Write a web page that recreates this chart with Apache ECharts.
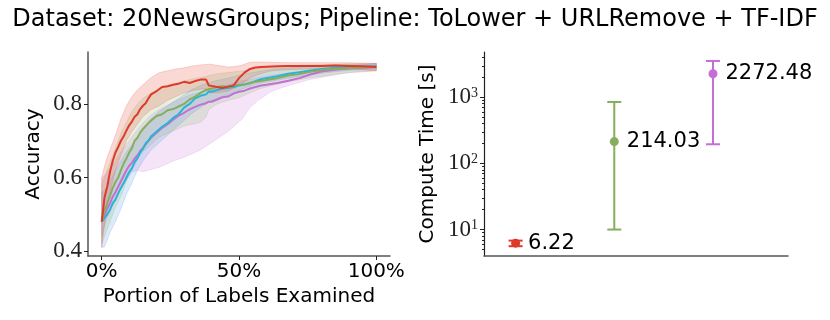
<!DOCTYPE html>
<html>
<head>
<meta charset="utf-8">
<script src="https://cdn.jsdelivr.net/npm/echarts@6/dist/echarts.min.js"></script>
<style>
  html, body { margin: 0; padding: 0; background: #fff; }
  #chart { width: 830px; height: 320px; }
</style>
</head>
<body>
<div id="chart"></div>
<script>
// portion of labels examined (%) for the mean curves
const portion = [0, 1, 2, 3, 4, 5, 6, 7, 8, 9, 10, 11, 12, 13, 14, 15, 16, 17, 18, 20, 22, 24, 26, 28, 30, 32, 34, 36, 38, 39, 40, 42, 44, 46, 48, 50, 52, 54, 56, 58, 60, 64, 68, 72, 76, 80, 85, 90, 95, 100];

const redMean    = [0.48, 0.545, 0.575, 0.615, 0.645, 0.668, 0.683, 0.70, 0.712, 0.728, 0.742, 0.752, 0.765, 0.772, 0.786, 0.795, 0.802, 0.815, 0.826, 0.835, 0.846, 0.848, 0.852, 0.855, 0.86, 0.857, 0.862, 0.866, 0.866, 0.85, 0.849, 0.846, 0.843, 0.847, 0.85, 0.87, 0.885, 0.895, 0.899, 0.90, 0.901, 0.902, 0.903, 0.903, 0.903, 0.903, 0.904, 0.903, 0.902, 0.900];
const greenMean  = [0.48, 0.51, 0.53, 0.55, 0.572, 0.588, 0.60, 0.62, 0.638, 0.652, 0.668, 0.68, 0.70, 0.708, 0.722, 0.732, 0.74, 0.748, 0.755, 0.767, 0.772, 0.783, 0.786, 0.793, 0.80, 0.812, 0.82, 0.83, 0.838, 0.84, 0.842, 0.846, 0.848, 0.846, 0.851, 0.852, 0.853, 0.857, 0.86, 0.862, 0.865, 0.87, 0.877, 0.881, 0.887, 0.892, 0.895, 0.897, 0.899, 0.90];
const cyanMean   = [0.48, 0.49, 0.50, 0.512, 0.53, 0.54, 0.557, 0.572, 0.585, 0.60, 0.615, 0.625, 0.642, 0.652, 0.668, 0.678, 0.693, 0.70, 0.712, 0.725, 0.738, 0.748, 0.762, 0.772, 0.79, 0.80, 0.815, 0.822, 0.826, 0.834, 0.833, 0.838, 0.842, 0.843, 0.846, 0.85, 0.853, 0.856, 0.862, 0.867, 0.87, 0.875, 0.882, 0.886, 0.891, 0.895, 0.898, 0.90, 0.901, 0.902];
const purpleMean = [0.48, 0.50, 0.515, 0.53, 0.548, 0.56, 0.575, 0.59, 0.605, 0.62, 0.632, 0.64, 0.652, 0.66, 0.672, 0.68, 0.69, 0.70, 0.708, 0.722, 0.735, 0.745, 0.757, 0.768, 0.776, 0.785, 0.792, 0.798, 0.802, 0.806, 0.806, 0.812, 0.818, 0.82, 0.828, 0.833, 0.836, 0.842, 0.846, 0.85, 0.852, 0.857, 0.863, 0.87, 0.88, 0.888, 0.893, 0.896, 0.898, 0.90];

// portion (%) for the shaded min/max bands
const bandPortion = [0, 1, 2, 3, 5, 7, 9, 11, 13, 15, 18, 21, 24, 27, 30, 33, 36, 38, 39, 42, 46, 49, 51, 54, 57, 62, 68, 75, 82, 90, 100];

const redUp    = [0.60, 0.63, 0.655, 0.675, 0.715, 0.76, 0.795, 0.82, 0.838, 0.852, 0.872, 0.885, 0.89, 0.895, 0.898, 0.903, 0.906, 0.907, 0.908, 0.905, 0.90, 0.902, 0.905, 0.913, 0.914, 0.913, 0.912, 0.912, 0.912, 0.912, 0.91];
const redLow   = [0.41, 0.47, 0.52, 0.56, 0.62, 0.66, 0.70, 0.725, 0.745, 0.765, 0.785, 0.795, 0.81, 0.82, 0.83, 0.836, 0.84, 0.842, 0.83, 0.83, 0.835, 0.845, 0.855, 0.87, 0.88, 0.89, 0.893, 0.895, 0.896, 0.895, 0.89];

const greenUp  = [0.58, 0.60, 0.62, 0.64, 0.68, 0.72, 0.75, 0.78, 0.80, 0.815, 0.83, 0.84, 0.85, 0.856, 0.862, 0.868, 0.872, 0.875, 0.877, 0.882, 0.885, 0.888, 0.889, 0.893, 0.896, 0.90, 0.903, 0.906, 0.907, 0.909, 0.91];
const greenLow = [0.42, 0.44, 0.46, 0.48, 0.52, 0.55, 0.59, 0.62, 0.65, 0.67, 0.69, 0.71, 0.72, 0.73, 0.74, 0.745, 0.75, 0.765, 0.785, 0.80, 0.81, 0.815, 0.82, 0.83, 0.84, 0.85, 0.86, 0.87, 0.877, 0.885, 0.89];

const cyanUp   = [0.56, 0.565, 0.575, 0.59, 0.62, 0.645, 0.67, 0.69, 0.71, 0.73, 0.76, 0.78, 0.795, 0.81, 0.825, 0.84, 0.85, 0.855, 0.858, 0.864, 0.87, 0.876, 0.879, 0.884, 0.888, 0.894, 0.898, 0.902, 0.905, 0.907, 0.91];
const cyanLow  = [0.41, 0.412, 0.43, 0.45, 0.48, 0.515, 0.555, 0.585, 0.62, 0.645, 0.675, 0.695, 0.715, 0.735, 0.755, 0.775, 0.79, 0.80, 0.805, 0.815, 0.825, 0.835, 0.84, 0.848, 0.855, 0.862, 0.87, 0.878, 0.885, 0.891, 0.895];

const purpleUp  = [0.60, 0.605, 0.615, 0.625, 0.645, 0.67, 0.69, 0.71, 0.73, 0.748, 0.77, 0.785, 0.797, 0.808, 0.818, 0.826, 0.832, 0.836, 0.838, 0.845, 0.852, 0.858, 0.862, 0.866, 0.872, 0.878, 0.884, 0.89, 0.896, 0.902, 0.91];
const purpleLow = [0.44, 0.47, 0.49, 0.51, 0.54, 0.57, 0.595, 0.615, 0.62, 0.616, 0.622, 0.628, 0.638, 0.648, 0.655, 0.665, 0.675, 0.685, 0.69, 0.705, 0.725, 0.745, 0.758, 0.79, 0.81, 0.835, 0.85, 0.865, 0.875, 0.885, 0.89];

// compute time (right panel)
const timePos   = [0, 1, 2];
const timeMean  = [6.22, 214.03, 2272.48];
const timeLow   = [5.6, 10, 195];
const timeHigh  = [6.8, 850, 3550];
const timeColor = ['#e0392b', '#87ad5e', '#c56fd6'];

const yTicks = [0.4, 0.6, 0.8];
const xTicks = [0, 50, 100];
const logTicks = [10, 100, 1000];
const logMinor = [5, 6, 7, 8, 9, 20, 30, 40, 50, 60, 70, 80, 90, 200, 300, 400, 500, 600, 700, 800, 900, 2000, 3000, 4000];

const curves = [
  { mean: purpleMean, up: purpleUp, low: purpleLow, color: '#c56fd6', fill: 'rgba(205,120,222,0.2)' },
  { mean: cyanMean, up: cyanUp, low: cyanLow, color: '#27b5d6', fill: 'rgba(60,140,220,0.18)' },
  { mean: greenMean, up: greenUp, low: greenLow, color: '#87ad5e', fill: 'rgba(130,180,100,0.2)' },
  { mean: redMean, up: redUp, low: redLow, color: '#e0392b', fill: 'rgba(230,80,60,0.22)' }
];

const zip = (xs, ys) => xs.map((x, i) => [x, ys[i]]);

const axisGray = '#555';
const serif = '"Liberation Serif", "DejaVu Serif", serif';
const sans = '"DejaVu Sans", sans-serif';

const series = [];
// shaded bands, one polygon per curve
curves.forEach(c => {
  series.push({
    type: 'custom', xAxisIndex: 0, yAxisIndex: 0, silent: true,
    data: bandPortion.map((x, i) => [x, c.low[i], c.up[i]]),
    renderItem: function (params, api) {
      if (params.dataIndex !== 0) return null;
      const pts = [];
      for (let i = 0; i < bandPortion.length; i++) pts.push(api.coord([bandPortion[i], c.up[i]]));
      for (let i = bandPortion.length - 1; i >= 0; i--) pts.push(api.coord([bandPortion[i], c.low[i]]));
      return {
        type: 'polygon',
        shape: { points: pts },
        style: { fill: c.fill, stroke: c.fill, lineWidth: 1 }
      };
    }
  });
});
curves.forEach(c => {
  series.push({
    type: 'line', xAxisIndex: 0, yAxisIndex: 0,
    data: zip(portion, c.mean), symbol: 'none',
    lineStyle: { color: c.color, width: 2 }
  });
});

// error bars
series.push({
  type: 'custom', xAxisIndex: 1, yAxisIndex: 1,
  data: timePos.map((x, i) => [x, timeLow[i], timeHigh[i]]),
  renderItem: function (params, api) {
    const i = params.dataIndex;
    const lo = api.coord([api.value(0), api.value(1)]);
    const hi = api.coord([api.value(0), api.value(2)]);
    const cap = 7;
    const st = { stroke: timeColor[i], lineWidth: 2 };
    return {
      type: 'group',
      children: [
        { type: 'line', shape: { x1: lo[0], y1: lo[1], x2: hi[0], y2: hi[1] }, style: st },
        { type: 'line', shape: { x1: lo[0] - cap, y1: lo[1], x2: lo[0] + cap, y2: lo[1] }, style: st },
        { type: 'line', shape: { x1: hi[0] - cap, y1: hi[1], x2: hi[0] + cap, y2: hi[1] }, style: st }
      ]
    };
  }
});
series.push({
  type: 'scatter', xAxisIndex: 1, yAxisIndex: 1,
  data: timePos.map((x, i) => ({ value: [x, timeMean[i]], itemStyle: { color: timeColor[i], opacity: 1 } })),
  symbolSize: 9,
  label: {
    show: true, position: 'right', distance: 8,
    formatter: p => timeMean[p.dataIndex].toFixed(2),
    fontFamily: sans, fontSize: 21, color: '#000', opacity: 1
  }
});

const myChart = echarts.init(document.getElementById('chart'));
myChart.setOption({
  animation: false,
  title: {
    text: 'Dataset: 20NewsGroups; Pipeline: ToLower + URLRemove + TF-IDF',
    left: 'center', top: 3,
    textStyle: { fontFamily: sans, fontSize: 24, fontWeight: 'normal', color: '#000' }
  },
  grid: [
    { left: 88, top: 52, width: 302, height: 204 },
    { left: 484, top: 52, width: 304, height: 204 }
  ],
  xAxis: [
    {
      type: 'value', gridIndex: 0, min: -5, max: 105,
      name: 'Portion of Labels Examined', nameLocation: 'middle', nameGap: 31,
      nameTextStyle: { fontFamily: sans, fontSize: 20, color: '#000' },
      axisLine: { onZero: false, lineStyle: { color: axisGray, width: 1.5 } },
      axisTick: { customValues: xTicks, length: 4, lineStyle: { color: '#222' } },
      axisLabel: {
        customValues: xTicks, formatter: v => v + '%', margin: 6,
        fontFamily: sans, fontSize: 20, color: '#000'
      },
      splitLine: { show: false }
    },
    {
      type: 'value', gridIndex: 1, min: -0.32, max: 2.76,
      axisLine: { onZero: false, lineStyle: { color: axisGray, width: 1.5 } },
      axisTick: { show: false }, axisLabel: { show: false },
      splitLine: { show: false }
    }
  ],
  yAxis: [
    {
      type: 'value', gridIndex: 0, min: 0.387, max: 0.941,
      name: 'Accuracy', nameLocation: 'middle', nameGap: 44,
      nameTextStyle: { fontFamily: sans, fontSize: 20, color: '#000' },
      axisLine: { show: true, onZero: false, lineStyle: { color: axisGray, width: 1.5 } },
      axisTick: { show: true, customValues: yTicks, length: 4, lineStyle: { color: '#222' } },
      axisLabel: {
        customValues: yTicks, formatter: v => v.toFixed(1), margin: 6,
        fontFamily: serif, fontSize: 23, color: '#222'
      },
      splitLine: { show: false }
    },
    {
      type: 'log', logBase: 10, gridIndex: 1, min: 3.98, max: 4850,
      name: 'Compute Time [s]', nameLocation: 'middle', nameGap: 46,
      nameTextStyle: { fontFamily: sans, fontSize: 20, color: '#000' },
      axisLine: { show: true, onZero: false, lineStyle: { color: '#222', width: 1.2 } },
      axisTick: { show: true, customValues: logTicks, length: 4, lineStyle: { color: '#222' } },
      axisLabel: {
        customValues: logTicks, margin: 6,
        formatter: v => '{b|10}{s|' + Math.round(Math.log10(v)) + '}',
        rich: {
          b: { fontFamily: serif, fontSize: 23, color: '#222' },
          s: { fontFamily: serif, fontSize: 14, color: '#222', verticalAlign: 'top' }
        }
      },
      splitLine: { show: false }
    },
    {
      type: 'log', logBase: 10, gridIndex: 1, min: 3.98, max: 4850, position: 'left',
      axisLine: { show: false, onZero: false },
      axisTick: { show: true, customValues: logMinor, length: 2, lineStyle: { color: '#222' } },
      axisLabel: { show: false },
      splitLine: { show: false }
    }
  ],
  series: series
});
</script>
</body>
</html>
